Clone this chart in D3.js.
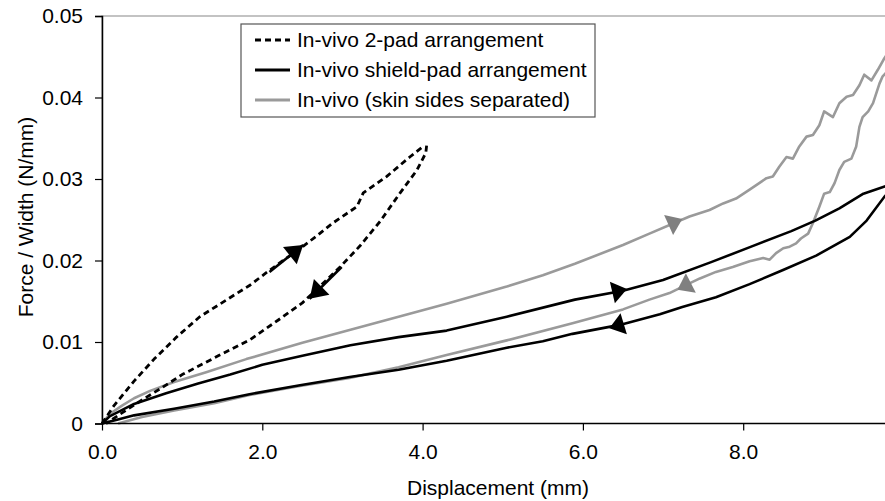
<!DOCTYPE html>
<html><head><meta charset="utf-8">
<script src="https://cdn.jsdelivr.net/npm/d3@7"></script>
<style>
html,body{margin:0;padding:0;background:#fff;}
text{font-family:"Liberation Sans",Arial,sans-serif;fill:#000;}
</style></head>
<body><svg id="c" width="885" height="501"></svg>
<script>
// ---- data (displacement mm, force/width N/mm) ----
const pad2Loading = [[0,0],[0.15,0.0022],[0.4,0.0052],[0.65,0.0079],[0.93,0.0106],[1.22,0.0131],[1.64,0.0157],[1.85,0.017],[2.05,0.0185],[2.26,0.0200],[2.45,0.0213],[2.69,0.0231],[2.88,0.0246],[3.18,0.0266],[3.26,0.0283],[3.55,0.0303],[3.84,0.0327],[4.02,0.0341]];
const pad2Unloading = [[4.05,0.0341],[4.04,0.0332],[3.93,0.0311],[3.72,0.0283],[3.47,0.0248],[3.22,0.0218],[2.97,0.0192],[2.63,0.0160],[2.5,0.0148],[2.2,0.0127],[1.85,0.0103],[1.45,0.0083],[1.0,0.0060],[0.75,0.0044],[0.5,0.0029],[0.25,0.0013],[0.05,0]];
const shieldLoading = [[0,0],[0.1,0.0009],[0.4,0.0024],[0.8,0.0037],[1.2,0.0049],[1.6,0.0060],[2.0,0.0072],[2.5,0.0083],[3.1,0.0096],[3.7,0.0106],[4.3,0.0114],[5.05,0.0131],[5.9,0.0152],[6.5,0.0163],[7.0,0.0176],[7.6,0.0198],[8.1,0.0217],[8.6,0.0236],[8.9,0.0249],[9.2,0.0264],[9.5,0.0282],[9.8,0.0292]];
const shieldUnloading = [[9.8,0.0282],[9.76,0.0278],[9.54,0.0249],[9.33,0.0229],[8.91,0.0206],[8.49,0.0188],[8.08,0.0171],[7.66,0.0155],[7.24,0.0143],[6.96,0.0134],[6.46,0.0121],[5.87,0.0110],[5.5,0.0101],[5.05,0.0093],[4.3,0.0077],[3.7,0.0066],[3.09,0.0057],[2.47,0.0047],[1.84,0.0036],[1.4,0.0027],[0.9,0.0018],[0.4,0.001],[0.2,0.0005],[0,0]];
const sepLoading = [[0,0],[0.1,0.0012],[0.25,0.0022],[0.4,0.0031],[0.6,0.0040],[0.9,0.0051],[1.3,0.0063],[1.8,0.0079],[2.5,0.0099],[3.1,0.0115],[3.7,0.0131],[4.3,0.0147],[5.05,0.0168],[5.5,0.0182],[5.9,0.0196],[6.5,0.0219],[6.83,0.0233],[7.14,0.0246],[7.33,0.0254],[7.58,0.0262],[7.75,0.0270],[7.91,0.0276],[8.08,0.0287],[8.2,0.0295],[8.29,0.0301],[8.37,0.0303],[8.45,0.0315],[8.54,0.0327],[8.62,0.0325],[8.7,0.034],[8.79,0.0352],[8.87,0.0354],[8.95,0.0366],[9.01,0.0383],[9.12,0.0376],[9.2,0.0393],[9.29,0.0401],[9.37,0.0403],[9.45,0.0415],[9.51,0.0428],[9.6,0.0421],[9.68,0.0434],[9.76,0.0448],[9.8,0.0454]];
const sepUnloading = [[9.8,0.0432],[9.74,0.0426],[9.7,0.0417],[9.62,0.0393],[9.56,0.0383],[9.49,0.0376],[9.45,0.0364],[9.41,0.034],[9.35,0.0325],[9.26,0.0321],[9.2,0.0311],[9.14,0.0295],[9.08,0.0284],[9.01,0.0282],[8.95,0.0266],[8.87,0.0246],[8.81,0.0233],[8.72,0.0227],[8.66,0.0221],[8.58,0.0217],[8.5,0.0215],[8.41,0.0209],[8.33,0.0201],[8.25,0.0203],[8.08,0.0199],[7.87,0.0192],[7.66,0.0186],[7.46,0.0178],[7.29,0.017],[7.08,0.016],[6.83,0.0152],[6.5,0.0140],[5.87,0.0123],[5.05,0.0102],[4.3,0.0084],[3.7,0.0069],[3.09,0.0056],[2.47,0.0046],[1.84,0.0035],[1.4,0.0025],[0.9,0.0016],[0.5,0.0008],[0.2,0]];

// direction arrows: [tailX, tailY, tipX, tipY]
const curveArrowsBlack = [[6.2,0.0157,6.55,0.0165],[6.7,0.0128,6.33,0.0117]];
const curveArrowsGray = [[6.9,0.0236,7.24,0.0251],[7.5,0.0180,7.18,0.0164]];
const pad2Arrows = [[2.09,0.0186,2.51,0.0219],[2.99,0.0192,2.59,0.0153]];

const xTicks = [0,2,4,6,8];
const yTicks = [0,0.01,0.02,0.03,0.04,0.05];
const legendLabels = ["In-vivo 2-pad arrangement","In-vivo shield-pad arrangement","In-vivo (skin sides separated)"];
const xTitle = "Displacement (mm)";
const yTitle = "Force / Width (N/mm)";

// ---- chart ----
const svg = d3.select("#c");
const L = 102, T = 16, B = 423.5;
const x = d3.scaleLinear().domain([0,10]).range([L, L + 801.5]);
const y = d3.scaleLinear().domain([0,0.05]).range([B, T]);
const GRAY = "#9a9a9a", GRAY_ARROW = "#808080";

svg.append("rect").attr("x",L).attr("y",T).attr("width",900).attr("height",B-T)
  .attr("fill","none").attr("stroke","#888").attr("stroke-width",1);

const line = d3.line().x(d=>x(d[0])).y(d=>y(d[1]));
function drawLine(data, color, dash){
  const p = svg.append("path").datum(data).attr("d",line).attr("fill","none")
    .attr("stroke",color).attr("stroke-width",2.6).attr("stroke-linejoin","round");
  if(dash) p.attr("stroke-dasharray",dash).attr("stroke-width",2.8);
}
drawLine(sepLoading, GRAY);
drawLine(sepUnloading, GRAY);
drawLine(shieldLoading, "#000");
drawLine(shieldUnloading, "#000");
drawLine(pad2Loading, "#000", "6,4");
drawLine(pad2Unloading, "#000", "6,4");

function head(a, color, len, hw){
  const x0=x(a[0]), y0=y(a[1]), x1=x(a[2]), y1=y(a[3]);
  const dx=x1-x0, dy=y1-y0, n=Math.hypot(dx,dy), ux=dx/n, uy=dy/n;
  const bx=x1-ux*len, by=y1-uy*len;
  svg.append("path").attr("d",`M${x1},${y1}L${bx-uy*hw},${by+ux*hw}L${bx+uy*hw},${by-ux*hw}Z`).attr("fill",color);
}
curveArrowsBlack.forEach(a=>head(a,"#000",15,11));
curveArrowsGray.forEach(a=>head(a,GRAY_ARROW,15,11));
pad2Arrows.forEach(a=>{
  svg.append("line").attr("x1",x(a[0])).attr("y1",y(a[1])).attr("x2",x(a[2])).attr("y2",y(a[3]))
    .attr("stroke","#000").attr("stroke-width",2.6);
  head(a,"#000",17,11);
});

// axes
const xAxis = svg.append("g").attr("transform",`translate(0,${B})`)
  .call(d3.axisBottom(x).tickValues(xTicks).tickSize(7).tickPadding(14).tickFormat(d3.format(".1f")));
const yAxis = svg.append("g").attr("transform",`translate(${L},0)`)
  .call(d3.axisLeft(y).tickValues(yTicks).tickSize(7).tickPadding(12).tickFormat(d=>d===0?"0":d3.format(".2f")(d)));
[xAxis,yAxis].forEach(g=>{
  g.select(".domain").attr("stroke","#000").attr("stroke-width",1.5);
  g.selectAll(".tick line").attr("stroke","#000").attr("stroke-width",1.2);
  g.selectAll(".tick text").attr("font-size",21).attr("font-family","Liberation Sans, Arial, sans-serif").attr("fill","#000");
});
xAxis.select(".domain").attr("d",`M${L},0H885`);

svg.append("text").attr("x",498).attr("y",495).attr("text-anchor","middle").attr("font-size",21).text(xTitle);
svg.append("text").attr("transform","translate(33,217) rotate(-90)").attr("text-anchor","middle").attr("font-size",21).text(yTitle);

// legend
const lg = svg.append("g");
const rowsY = [40,70,100];
lg.append("rect").attr("x",241).attr("y",24).attr("width",354).attr("height",93)
  .attr("fill","#fff").attr("stroke","#555").attr("stroke-width",1.2);
const legStyles = [{c:"#000",dash:"6,4"},{c:"#000"},{c:GRAY}];
legendLabels.forEach((t,i)=>{
  const l = lg.append("line").attr("x1",255).attr("x2",290).attr("y1",rowsY[i]).attr("y2",rowsY[i])
    .attr("stroke",legStyles[i].c).attr("stroke-width",2.8);
  if(legStyles[i].dash) l.attr("stroke-dasharray",legStyles[i].dash);
  lg.append("text").attr("x",297).attr("y",rowsY[i]).attr("dy","0.35em").attr("font-size",21).text(t);
});
</script></body></html>
